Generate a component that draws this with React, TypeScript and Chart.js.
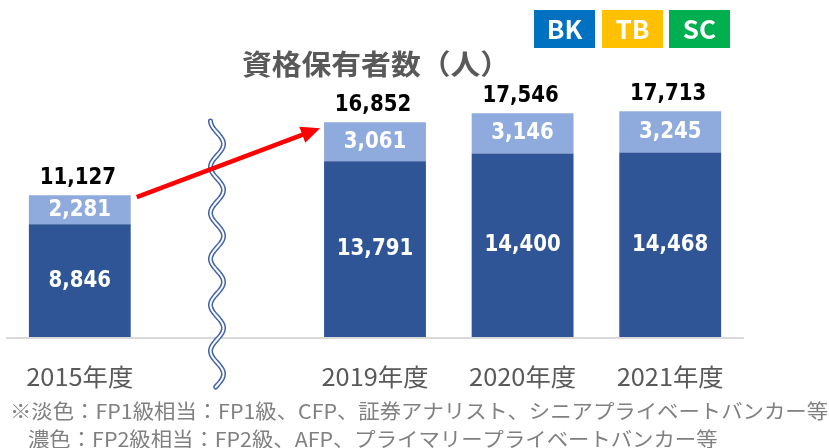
import React, { useEffect, useRef } from 'react';
import { Chart, registerables } from 'chart.js';

Chart.register(...registerables);

const categories = ['2015年度', '', '2019年度', '2020年度', '2021年度'];
const fp2Values = [8846, null, 13791, 14400, 14468];
const fp1Values = [2281, null, 3061, 3146, 3245];
const totals = [11127, null, 16852, 17546, 17713];
const badges = ['BK', 'TB', 'SC'];
const badgeColors = ['#0070C0', '#FFC000', '#00B050'];
const titleText = '資格保有者数（人）';
const noteLines = [
  '※淡色：FP1級相当：FP1級、CFP、証券アナリスト、シニアプライベートバンカー等',
  '濃色：FP2級相当：FP2級、AFP、プライマリープライベートバンカー等',
];

const CJK = '"Noto Sans CJK JP", "Noto Sans", sans-serif';
const NUM = '"DejaVu Sans", Verdana, sans-serif';

function drawText(
  ctx: CanvasRenderingContext2D,
  text: string,
  x: number,
  y: number,
  font: string,
  color: string,
  align: CanvasTextAlign,
  scaleX: number
) {
  ctx.save();
  ctx.font = font;
  ctx.fillStyle = color;
  ctx.textAlign = align;
  ctx.textBaseline = 'middle';
  ctx.translate(x, y);
  ctx.scale(scaleX, 1);
  ctx.fillText(text, 0, 0);
  ctx.restore();
}

function fitScale(ctx: CanvasRenderingContext2D, text: string, font: string, width: number) {
  ctx.save();
  ctx.font = font;
  const w = ctx.measureText(text).width;
  ctx.restore();
  return w > 0 ? width / w : 1;
}

const overlay = {
  id: 'overlay',
  beforeDatasetsDraw(chart: any) {
    const ctx = chart.ctx as CanvasRenderingContext2D;
    const y0 = chart.scales.y.getPixelForValue(0);
    ctx.save();
    ctx.strokeStyle = '#D9D9D9';
    ctx.lineWidth = 2;
    ctx.beginPath();
    ctx.moveTo(chart.chartArea.left, y0 + 1);
    ctx.lineTo(chart.chartArea.right, y0 + 1);
    ctx.stroke();
    ctx.restore();
  },
  afterDatasetsDraw(chart: any) {
    const ctx = chart.ctx as CanvasRenderingContext2D;
    const xs = chart.scales.x;
    const m0 = chart.getDatasetMeta(0);
    const m1 = chart.getDatasetMeta(1);

    // wavy break mark
    const wx = 217;
    const wTop = 121;
    const wBot = 387;
    const amp = 6.5;
    const period = 46;
    const wavePath = () => {
      ctx.beginPath();
      for (let y = wTop; y <= wBot; y += 1) {
        const x = wx - amp * Math.cos(((y - wTop) / period) * Math.PI * 2);
        if (y === wTop) ctx.moveTo(x, y);
        else ctx.lineTo(x, y);
      }
    };
    ctx.save();
    ctx.lineCap = 'round';
    wavePath();
    ctx.strokeStyle = '#4062A8';
    ctx.lineWidth = 5;
    ctx.stroke();
    wavePath();
    ctx.strokeStyle = '#FFFFFF';
    ctx.lineWidth = 2;
    ctx.stroke();
    ctx.restore();

    // red arrow from 2015 to 2019
    const b0 = m1.data[0];
    const b2 = m1.data[2];
    const ax0 = b0.x + b0.width / 2 + 6;
    const ay0 = b0.y + 2;
    const ax1 = b2.x - b2.width / 2 - 4;
    const ay1 = b2.y + 6;
    const ang = Math.atan2(ay1 - ay0, ax1 - ax0);
    const headLen = 19;
    const headHalf = 8.5;
    const bx = ax1 - headLen * Math.cos(ang);
    const by = ay1 - headLen * Math.sin(ang);
    ctx.save();
    ctx.strokeStyle = '#FF0000';
    ctx.fillStyle = '#FF0000';
    ctx.lineWidth = 4.5;
    ctx.beginPath();
    ctx.moveTo(ax0, ay0);
    ctx.lineTo(bx + 2 * Math.cos(ang), by + 2 * Math.sin(ang));
    ctx.stroke();
    ctx.beginPath();
    ctx.moveTo(ax1, ay1);
    ctx.lineTo(bx - headHalf * Math.sin(ang), by + headHalf * Math.cos(ang));
    ctx.lineTo(bx + headHalf * Math.sin(ang), by - headHalf * Math.cos(ang));
    ctx.closePath();
    ctx.fill();
    ctx.restore();

    // value labels
    const numFont = `bold 23px ${NUM}`;
    const numScale = 0.86;
    categories.forEach((_, i) => {
      const d = m0.data[i];
      const l = m1.data[i];
      if (fp2Values[i] != null && d) {
        drawText(ctx, (fp2Values[i] as number).toLocaleString('en-US'), d.x, (d.y + d.base) / 2, numFont, '#FFFFFF', 'center', numScale);
      }
      if (fp1Values[i] != null && l) {
        drawText(ctx, (fp1Values[i] as number).toLocaleString('en-US'), l.x, (l.y + l.base) / 2, numFont, '#FFFFFF', 'center', numScale);
      }
      if (totals[i] != null && l) {
        drawText(ctx, (totals[i] as number).toLocaleString('en-US'), l.x - 2, l.y - 17, numFont, '#000000', 'center', numScale);
      }
      if (categories[i]) {
        const f = `24px ${CJK}`;
        const s = fitScale(ctx, categories[i], f, 107);
        drawText(ctx, categories[i], xs.getPixelForValue(i), 377, f, '#595959', 'center', s);
      }
    });

    // title
    const tf = `bold 28px ${CJK}`;
    const ts = fitScale(ctx, titleText, tf, 268);
    drawText(ctx, titleText, 242, 64, tf, '#595959', 'left', ts);

    // badges
    const bxs = [534, 602, 669];
    badges.forEach((b, i) => {
      ctx.save();
      ctx.fillStyle = badgeColors[i];
      ctx.fillRect(bxs[i], 10, 61, 38);
      ctx.restore();
      drawText(ctx, b, bxs[i] + 30.5, 29, `bold 26px ${CJK}`, '#FFFFFF', 'center', 1);
    });

    // notes
    const nf = `20px ${CJK}`;
    const ns = fitScale(ctx, noteLines[0], nf, 818);
    drawText(ctx, noteLines[0], 10, 411, nf, '#808080', 'left', ns);
    drawText(ctx, noteLines[1], 28, 439, nf, '#808080', 'left', ns);
  },
};

export default function App() {
  const ref = useRef<HTMLCanvasElement | null>(null);
  useEffect(() => {
    if (!ref.current) return;
    const chart = new Chart(ref.current, {
      type: 'bar',
      data: {
        labels: categories,
        datasets: [
          {
            label: 'FP2級相当',
            data: fp2Values,
            backgroundColor: '#2F5597',
            borderWidth: 0,
            barPercentage: 0.69,
            categoryPercentage: 1,
          },
          {
            label: 'FP1級相当',
            data: fp1Values,
            backgroundColor: '#8FAADC',
            borderWidth: 0,
            barPercentage: 0.69,
            categoryPercentage: 1,
          },
        ],
      },
      options: {
        responsive: false,
        animation: false,
        devicePixelRatio: 1,
        layout: { padding: { left: 6, right: 85, top: 82, bottom: 111 } },
        plugins: { legend: { display: false }, tooltip: { enabled: false }, title: { display: false } },
        scales: {
          x: { stacked: true, display: false },
          y: { stacked: true, display: false, min: 0, max: 20000 },
        },
      },
      plugins: [overlay],
    });
    return () => chart.destroy();
  }, []);
  return (
    <div style={{ position: 'fixed', left: 0, top: 0, width: 829, height: 448, background: '#FFFFFF' }}>
      <canvas ref={ref} width={829} height={448} style={{ display: 'block' }} />
    </div>
  );
}
